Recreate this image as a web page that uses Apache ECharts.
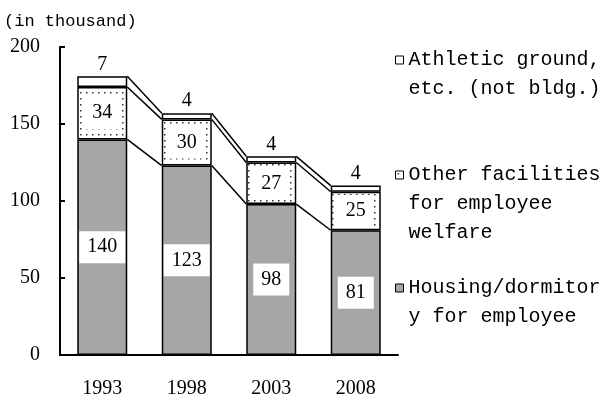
<!DOCTYPE html>
<html>
<head>
<meta charset="utf-8">
<script src="https://cdn.jsdelivr.net/npm/echarts@6/dist/echarts.min.js"></script>
<style>
html, body { margin: 0; padding: 0; background: #fff; }
#chart { width: 603px; height: 400px; }
</style>
</head>
<body>
<div id="chart"></div>
<script>
var years = ['1993', '1998', '2003', '2008'];
var housing = [140, 123, 98, 81];
var otherFacilities = [34, 30, 27, 25];
var athletic = [7, 4, 4, 4];
var yTicks = [0, 50, 100, 150, 200];

var housingName = 'Housing/dormitor\ny for employee';
var otherName = 'Other facilities\nfor employee\nwelfare';
var athleticName = 'Athletic ground,\netc. (not bldg.)';

var BAR_W = 50;
var serif = 'Liberation Serif';
var mono = 'Liberation Mono';

// dotted fill for the middle segment
var dots = document.createElement('canvas');
dots.width = 6;
dots.height = 6;
var dctx = dots.getContext('2d');
dctx.fillStyle = '#fff';
dctx.fillRect(0, 0, 6, 6);
dctx.fillStyle = '#333';
dctx.fillRect(2, 2, 1.5, 1.5);

// cumulative tops of each layer, for the connector lines
var layers = [housing, otherFacilities, athletic];
var links = [];
var cum = years.map(function() { return 0; });
layers.forEach(function(arr) {
	cum = cum.map(function(c, i) { return c + arr[i]; });
	for (var i = 0; i < years.length - 1; i++) {
		links.push([i, cum[i], cum[i + 1]]);
	}
});

var boxLabel = {
	show: true,
	position: 'inside',
	color: '#000',
	fontFamily: serif,
	fontSize: 20,
	backgroundColor: '#fff',
	padding: [6, 8]
};

var LH = 29;
// icon sits beside the first line: pad the name with blank lines above
function legendFor(name, top) {
	var n = name.split('\n').length;
	var pad = new Array(n).join(' \n');
	return {
		data: [name],
		orient: 'vertical',
		left: 395,
		top: top,
		padding: 0,
		icon: 'rect',
		itemWidth: 8,
		itemHeight: 8,
		itemStyle: { borderColor: '#000', borderWidth: 1 },
		selectedMode: false,
		formatter: function(s) { return pad + s; },
		textStyle: {
			fontFamily: mono,
			fontSize: 20,
			color: '#000',
			lineHeight: LH
		}
	};
}

var option = {
	animation: false,
	backgroundColor: '#fff',
	title: {
		text: '(in thousand)',
		left: 4,
		top: 13,
		padding: 0,
		textStyle: { fontFamily: mono, fontSize: 17, fontWeight: 'normal', color: '#000' }
	},
	legend: [
		legendFor(athleticName, 60 - 1.5 * LH),
		legendFor(otherName, 175 - 2.5 * LH),
		legendFor(housingName, 288 - 1.5 * LH)
	],
	grid: { left: 60, right: 205, top: 47, bottom: 45 },
	xAxis: {
		type: 'category',
		data: years,
		axisLine: { lineStyle: { color: '#000', width: 2 } },
		axisTick: { show: false },
		axisLabel: { color: '#000', fontFamily: serif, fontSize: 20, margin: 24 }
	},
	yAxis: {
		type: 'value',
		min: yTicks[0],
		max: yTicks[yTicks.length - 1],
		interval: yTicks[1] - yTicks[0],
		axisLine: { show: true, lineStyle: { color: '#000', width: 2 } },
		axisTick: { show: true, inside: true, length: 5, lineStyle: { color: '#000', width: 2 } },
		axisLabel: { color: '#000', fontFamily: serif, fontSize: 20, margin: 20 },
		splitLine: { show: false }
	},
	series: [{
		name: housingName,
		type: 'bar',
		stack: 'total',
		barWidth: BAR_W,
		data: housing,
		itemStyle: { color: '#a6a6a6', borderColor: '#000', borderWidth: 1.5 },
		label: boxLabel
	}, {
		name: otherName,
		type: 'bar',
		stack: 'total',
		barWidth: BAR_W,
		data: otherFacilities,
		itemStyle: { color: { image: dots, repeat: 'repeat' }, borderColor: '#000', borderWidth: 1.5 },
		label: boxLabel
	}, {
		name: athleticName,
		type: 'bar',
		stack: 'total',
		barWidth: BAR_W,
		data: athletic,
		itemStyle: { color: '#fff', borderColor: '#000', borderWidth: 1.5 },
		label: {
			show: true,
			position: 'top',
			distance: 2,
			color: '#000',
			fontFamily: serif,
			fontSize: 20
		}
	}, {
		type: 'custom',
		silent: true,
		data: links,
		encode: { x: 0, y: 1 },
		renderItem: function(params, api) {
			var i = api.value(0);
			var a = api.coord([i, api.value(1)]);
			var b = api.coord([i + 1, api.value(2)]);
			return {
				type: 'line',
				shape: { x1: a[0] + BAR_W / 2, y1: a[1], x2: b[0] - BAR_W / 2, y2: b[1] },
				style: { stroke: '#000', lineWidth: 1.5 }
			};
		}
	}]
};

var chart = echarts.init(document.getElementById('chart'));
chart.setOption(option);
</script>
</body>
</html>
